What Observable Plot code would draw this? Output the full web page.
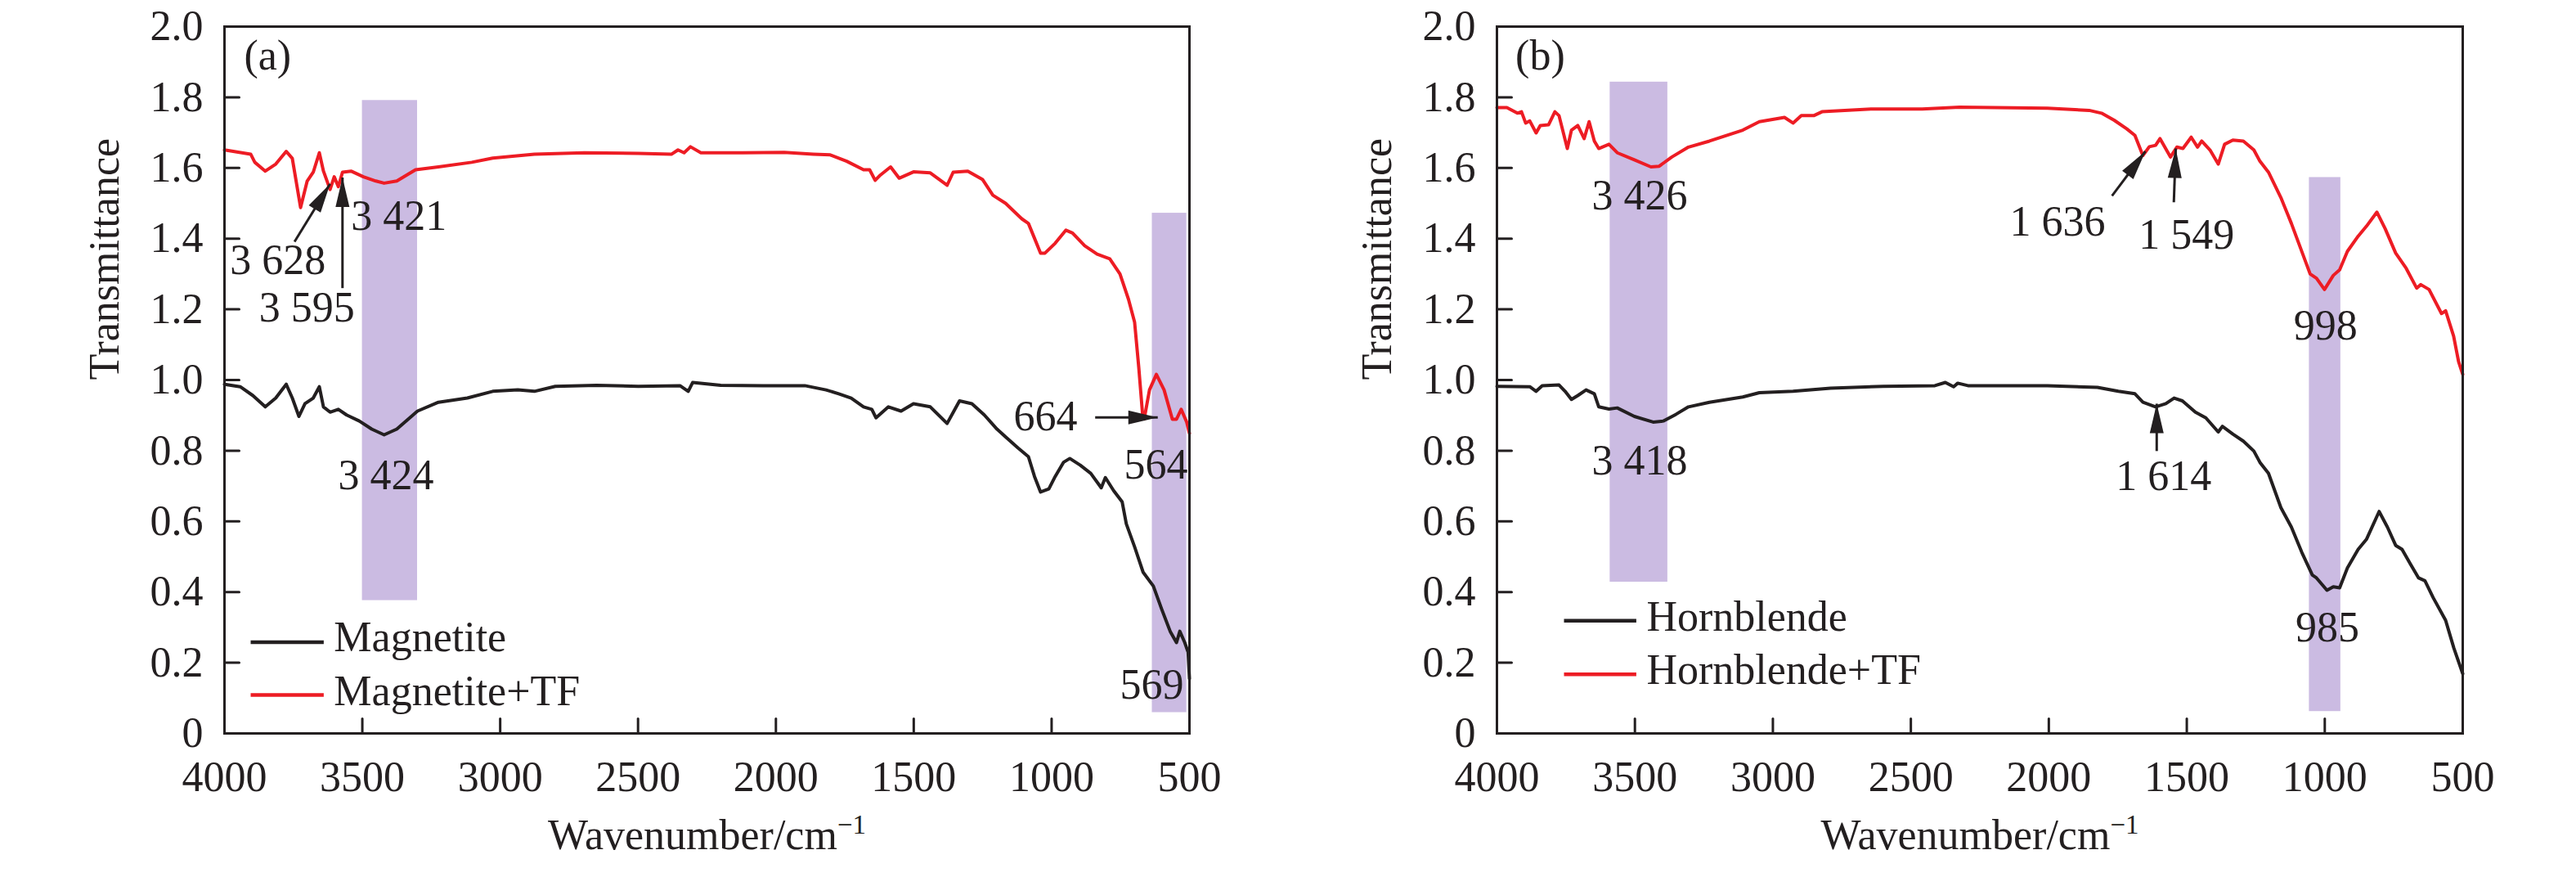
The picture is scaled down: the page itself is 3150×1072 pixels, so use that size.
<!DOCTYPE html>
<html><head><meta charset="utf-8">
<script src="https://cdn.jsdelivr.net/npm/d3@7"></script>
<script src="https://cdn.jsdelivr.net/npm/@observablehq/plot@0.6"></script>
<style>
html,body{margin:0;padding:0;background:#fff;}
#wrap{display:flex;width:3150px;height:1072px;}
#wrap svg{display:block;}
</style></head><body><div id="wrap"></div>
<script>
// ---------- data ----------
const xTicks = [4000, 3500, 3000, 2500, 2000, 1500, 1000, 500];
const yTicks = [0, 0.2, 0.4, 0.6, 0.8, 1.0, 1.2, 1.4, 1.6, 1.8, 2.0];
const xDomain = [4000, 500];
const yDomain = [0, 2];

// Panel (a)
const magnetite = [[4000,0.988],[3943,0.981],[3897,0.956],[3852,0.924],[3814,0.949],[3776,0.988],[3754,0.949],[3730,0.897],[3708,0.933],[3678,0.949],[3656,0.981],[3641,0.924],[3617,0.909],[3587,0.917],[3557,0.901],[3511,0.884],[3466,0.861],[3421,0.845],[3375,0.861],[3300,0.912],[3224,0.937],[3119,0.949],[3027,0.968],[2936,0.972],[2876,0.968],[2800,0.982],[2650,0.985],[2499,0.982],[2348,0.984],[2318,0.968],[2302,0.993],[2200,0.985],[2046,0.984],[1895,0.984],[1818,0.972],[1772,0.961],[1727,0.949],[1682,0.924],[1652,0.917],[1637,0.893],[1592,0.924],[1546,0.912],[1501,0.933],[1440,0.924],[1379,0.877],[1334,0.941],[1289,0.933],[1244,0.901],[1198,0.861],[1167,0.839],[1122,0.808],[1084,0.783],[1062,0.727],[1040,0.683],[1010,0.692],[987,0.727],[957,0.767],[934,0.778],[896,0.759],[858,0.736],[820,0.695],[805,0.724],[775,0.687],[744,0.655],[729,0.593],[699,0.528],[668,0.456],[631,0.417],[601,0.352],[570,0.289],[547,0.257],[535,0.289],[517,0.257],[505,0.23],[500,0.155]];
const magnetiteTF = [[4000,1.651],[3905,1.639],[3890,1.616],[3852,1.591],[3814,1.611],[3776,1.647],[3754,1.627],[3724,1.488],[3700,1.563],[3678,1.588],[3656,1.643],[3641,1.591],[3617,1.539],[3602,1.575],[3587,1.547],[3572,1.588],[3541,1.591],[3496,1.575],[3451,1.563],[3421,1.557],[3375,1.563],[3307,1.595],[3224,1.603],[3103,1.616],[3027,1.628],[2876,1.639],[2695,1.643],[2499,1.641],[2378,1.639],[2355,1.651],[2333,1.643],[2310,1.660],[2272,1.643],[2121,1.643],[1970,1.644],[1864,1.639],[1803,1.637],[1743,1.619],[1682,1.595],[1660,1.595],[1640,1.565],[1621,1.580],[1584,1.603],[1553,1.571],[1501,1.589],[1440,1.586],[1379,1.551],[1357,1.588],[1304,1.591],[1250,1.567],[1213,1.523],[1167,1.500],[1108,1.456],[1084,1.443],[1040,1.359],[1024,1.359],[987,1.387],[948,1.424],[924,1.416],[880,1.380],[835,1.356],[789,1.343],[752,1.300],[721,1.228],[699,1.164],[684,1.037],[669,0.893],[664,0.89],[645,0.972],[620,1.016],[592,0.972],[562,0.889],[547,0.889],[530,0.917],[510,0.881],[500,0.849]];
const bandsA = [{w1:3500,w2:3300,v1:0.376,v2:1.791},{w1:635,w2:510,v1:0.059,v2:1.472}];
const notesA = [
  {w:3929,v:1.918,t:"(a)"},
  {w:3541,v:1.463,t:"3 421"},
  {w:3980,v:1.339,t:"3 628"},
  {w:3875,v:1.204,t:"3 595"},
  {w:3588,v:0.729,t:"3 424"},
  {w:1138,v:0.896,t:"664"},
  {w:737,v:0.759,t:"564"},
  {w:752,v:0.137,t:"569"}
];
const arrowsA = [
  {w1:3746,v1:1.391,w2:3617,v2:1.555},
  {w1:3572,v1:1.260,w2:3572,v2:1.573},
  {w1:842,v1:0.894,w2:615,v2:0.894}
];
const legendNamesA = ["Magnetite","Magnetite+TF"];

// Panel (b)
const hornblende = [[4000,0.982],[3881,0.981],[3858,0.968],[3836,0.984],[3775,0.986],[3753,0.968],[3730,0.945],[3707,0.956],[3677,0.972],[3647,0.961],[3631,0.924],[3594,0.918],[3564,0.921],[3502,0.897],[3434,0.881],[3396,0.884],[3351,0.903],[3306,0.924],[3230,0.937],[3109,0.952],[3049,0.964],[2927,0.968],[2791,0.977],[2600,0.982],[2413,0.984],[2375,0.993],[2345,0.981],[2330,0.991],[2293,0.984],[2005,0.984],[1824,0.979],[1748,0.968],[1688,0.961],[1659,0.937],[1613,0.924],[1576,0.933],[1546,0.949],[1516,0.941],[1469,0.909],[1431,0.893],[1386,0.853],[1371,0.869],[1333,0.847],[1295,0.827],[1257,0.799],[1235,0.767],[1204,0.736],[1159,0.639],[1121,0.584],[1083,0.512],[1045,0.448],[1030,0.440],[992,0.405],[969,0.415],[946,0.412],[918,0.468],[879,0.521],[849,0.549],[803,0.628],[773,0.584],[743,0.532],[720,0.521],[690,0.480],[660,0.440],[637,0.432],[607,0.384],[562,0.320],[532,0.241],[500,0.169]];
const hornblendeTF = [[4000,1.771],[3964,1.771],[3926,1.755],[3911,1.759],[3896,1.727],[3881,1.733],[3858,1.699],[3843,1.72],[3813,1.722],[3790,1.759],[3775,1.748],[3745,1.655],[3730,1.707],[3707,1.72],[3684,1.683],[3666,1.731],[3647,1.676],[3631,1.655],[3594,1.667],[3564,1.643],[3502,1.623],[3442,1.603],[3412,1.605],[3366,1.631],[3306,1.659],[3230,1.676],[3109,1.707],[3049,1.731],[2958,1.743],[2927,1.727],[2897,1.748],[2852,1.748],[2822,1.759],[2640,1.767],[2459,1.767],[2323,1.772],[2005,1.769],[1854,1.763],[1809,1.755],[1763,1.735],[1718,1.711],[1688,1.692],[1659,1.635],[1636,1.66],[1613,1.664],[1597,1.683],[1559,1.631],[1536,1.659],[1514,1.655],[1484,1.687],[1461,1.659],[1446,1.676],[1416,1.651],[1386,1.611],[1363,1.667],[1333,1.679],[1295,1.676],[1257,1.651],[1235,1.619],[1204,1.588],[1159,1.516],[1121,1.443],[1091,1.380],[1053,1.300],[1030,1.288],[1001,1.256],[969,1.296],[946,1.312],[918,1.364],[879,1.407],[849,1.435],[811,1.475],[781,1.428],[743,1.359],[705,1.316],[667,1.260],[652,1.27],[622,1.256],[577,1.188],[562,1.196],[533,1.124],[515,1.052],[500,1.016]];
const bandsB = [{w1:3590,w2:3381,v1:0.428,v2:1.843},{w1:1056,w2:942,v1:0.062,v2:1.573}];
const notesB = [
  {w:3933,v:1.918,t:"(b)"},
  {w:3656,v:1.521,t:"3 426"},
  {w:3656,v:0.771,t:"3 418"},
  {w:2142,v:1.447,t:"1 636"},
  {w:1674,v:1.409,t:"1 549"},
  {w:1113,v:1.152,t:"998"},
  {w:1757,v:0.727,t:"1 614"},
  {w:1106,v:0.300,t:"985"}
];
const arrowsB = [
  {w1:1771,v1:1.521,w2:1650,v2:1.647},
  {w1:1547,v1:1.503,w2:1540,v2:1.655},
  {w1:1609,v1:0.799,w2:1609,v2:0.933}
];
const legendNamesB = ["Hornblende","Hornblende+TF"];

// legend geometry in data units
const legendA = {lineW:[3905,3640], textW:3603, lineV:[0.258,0.109], textV:[0.272,0.119]};
const legendB = {lineW:[3757,3495], textW:3458, lineV:[0.319,0.167], textV:[0.328,0.178]};

// ---------- style ----------
const INK = "#231f20", RED = "#ed1c24", BAND = "#cbbbe2";
const FONT = "'Liberation Serif','Times New Roman',serif";
const FS = 52;
const W = 1575, H = 1072, MT = 32, MB = 176;
const tickShape = {draw(c, l) { c.moveTo(0, 0); c.lineTo(0, -l); }};
const headShape = {draw(c, l) { c.moveTo(0, -l); c.lineTo(-8.5, 0); c.lineTo(8.5, 0); c.closePath(); }};

function panel({ml, mr, black, red, bands, notes, arrows, names, legend}) {
  const kx = (W - ml - mr) / (xDomain[0] - xDomain[1]);
  const ky = (H - MT - MB) / (yDomain[1] - yDomain[0]);
  const heads = arrows.map(a => ({...a, angle: Math.atan2(-(a.w2 - a.w1) * kx, (a.v2 - a.v1) * ky) * 180 / Math.PI}));
  const leg = names.map((n, i) => ({n, x1: legend.lineW[0], x2: legend.lineW[1], ly: legend.lineV[i], tx: legend.textW, ty: legend.textV[i], c: i === 0 ? INK : RED}));
  const svg = Plot.plot({
    width: W, height: H,
    marginLeft: ml, marginRight: mr, marginTop: MT, marginBottom: MB,
    style: {fontFamily: FONT, fontSize: FS + "px", color: INK, background: "transparent", overflow: "visible"},
    x: {domain: xDomain},
    y: {domain: yDomain},
    marks: [
      Plot.rect(bands, {x1: "w1", x2: "w2", y1: "v1", y2: "v2", fill: BAND}),
      Plot.line(black, {x: d => d[0], y: d => d[1], stroke: INK, strokeWidth: 4, strokeLinejoin: "round"}),
      Plot.line(red, {x: d => d[0], y: d => d[1], stroke: RED, strokeWidth: 4, strokeLinejoin: "round"}),
      Plot.frame({stroke: INK, strokeWidth: 3}),
      Plot.vector(yTicks, {y: d => d, frameAnchor: "left", length: 18, rotate: 90, anchor: "start", shape: tickShape, stroke: INK, strokeWidth: 3}),
      Plot.vector(xTicks, {x: d => d, frameAnchor: "bottom", length: 18, rotate: 0, anchor: "start", shape: tickShape, stroke: INK, strokeWidth: 3}),
      Plot.axisY({ticks: yTicks, tickSize: 0, tickPadding: 26, tickFormat: d => d === 0 ? "0" : d.toFixed(1), label: null, fontSize: FS, fill: INK}),
      Plot.axisX({ticks: xTicks, tickSize: 0, tickPadding: 34, tickFormat: d => String(d), label: null, fontSize: FS, fill: INK}),
      Plot.text(["Transmittance"], {frameAnchor: "left", rotate: -90, dx: -146, fontSize: FS, fill: INK}),
      Plot.text(["Wavenumber/cm"], {frameAnchor: "bottom", dy: 141, fontSize: FS, fill: INK}),
      Plot.link(arrows, {x1: "w1", y1: "v1", x2: "w2", y2: "v2", stroke: INK, strokeWidth: 3}),
      Plot.vector(heads, {x: "w2", y: "v2", rotate: "angle", length: 36, anchor: "end", shape: headShape, fill: INK, stroke: "none"}),
      Plot.text(notes, {x: "w", y: "v", text: "t", textAnchor: "start", fontSize: FS, fill: INK}),
      Plot.link(leg, {x1: "x1", x2: "x2", y1: "ly", y2: "ly", stroke: "c", strokeWidth: 4.5}),
      Plot.text(leg, {x: "tx", y: "ty", text: "n", textAnchor: "start", fontSize: FS, fill: INK})
    ]
  });
  d3.select(svg).selectAll("text").filter(function() { return this.textContent === "Wavenumber/cm"; })
    .append("tspan").attr("dy", "-0.55em").attr("font-size", "33px").text("\u22121");
  return svg;
}

const wrap = document.getElementById("wrap");
wrap.appendChild(panel({ml: 274, mr: 121, black: magnetite, red: magnetiteTF, bands: bandsA, notes: notesA, arrows: arrowsA, names: legendNamesA, legend: legendA}));
wrap.appendChild(panel({ml: 255, mr: 139, black: hornblende, red: hornblendeTF, bands: bandsB, notes: notesB, arrows: arrowsB, names: legendNamesB, legend: legendB}));
</script></body></html>
